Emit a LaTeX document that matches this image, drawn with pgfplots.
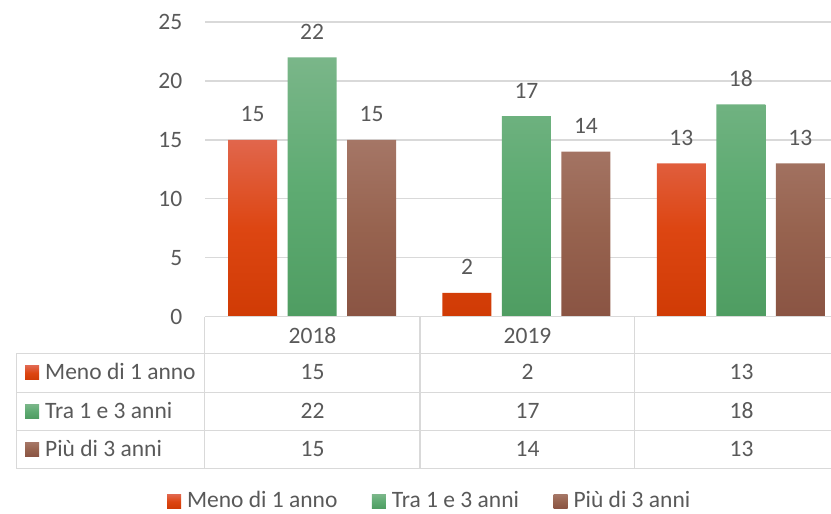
\documentclass[border=0pt]{standalone}
\usepackage{fontspec}
\setmainfont{Carlito}
\usepackage{pgfplots}
\pgfplotsset{compat=1.18}
\definecolor{txt}{HTML}{595959}
\definecolor{grd}{HTML}{D9D9D9}
\definecolor{rT}{HTML}{E1664C}\definecolor{rM}{HTML}{DD4612}\definecolor{rB}{HTML}{D03B05}
\definecolor{gT}{HTML}{7AB689}\definecolor{gM}{HTML}{5EAB72}\definecolor{gB}{HTML}{4F9D62}
\definecolor{bT}{HTML}{A57666}\definecolor{bM}{HTML}{97634F}\definecolor{bB}{HTML}{8A5443}
\newcommand\fs{\fontsize{23.5bp}{28bp}\selectfont}
\pgfplotsset{
  sqbar/.style={ybar, bar width=49bp, draw=none, bar shift=#1, nodes near coords,
    every node near coord/.append style={font=\fs, text=txt, anchor=base, inner sep=0pt, yshift=18bp, xshift=#1},
    legend image code/.code={\path[##1] (0bp,-8bp) rectangle (14bp,6bp);}},
}
\begin{document}
\begin{tikzpicture}
\useasboundingbox (0bp,0bp) rectangle (831bp,-514bp);
\begin{axis}[at={(205bp,-316.5bp)}, anchor=south west, scale only axis,
  width=626bp, height=294.5bp,
  xmin=-0.5, xmax=2.421, ymin=0, ymax=25,
  ytick={0,5,...,25}, xtick=\empty,
  ymajorgrids, grid style={grd, line width=1.4bp},
  axis line style={draw=none}, major tick length=0pt,
  yticklabel style={font=\fs, text=txt, anchor=east, inner sep=0pt, xshift=-22.5bp},
  /pgf/number format/assume math mode=true,
  clip=false,
  legend columns=3,
  legend style={at={(rel axis cs:-0.0607,-0.655)}, anchor=south west, draw=none, fill=none,
    inner sep=0pt, outer sep=0pt, font=\fs, text=txt, nodes={inner sep=0pt},
    /tikz/every odd column/.append style={column sep=6bp},
    /tikz/every even column/.append style={column sep=34.5bp}},
]
\addplot[sqbar=-59.5bp, top color=rT, bottom color=rB, middle color=rM]
  coordinates {(0,15) (1,2) (2,13)};
\addlegendentry{Meno di 1 anno}
\addplot[sqbar=0bp, top color=gT, bottom color=gB, middle color=gM]
  coordinates {(0,22) (1,17) (2,18)};
\addlegendentry{Tra 1 e 3 anni}
\addplot[sqbar=59.5bp, top color=bT, bottom color=bB, middle color=bM]
  coordinates {(0,15) (1,14) (2,13)};
\addlegendentry{Più di 3 anni}
\end{axis}
\begin{scope}[x=1bp,y=1bp]
  \draw[grd, line width=1.4bp] (205,-316.7) -- (831,-316.7);
  \foreach \yy in {353.3,392.3,430.7,468.7} \draw[grd, line width=1.4bp] (16.7,-\yy) -- (831,-\yy);
  \draw[grd, line width=1.4bp] (16.7,-353.3) -- (16.7,-468.7);
  \foreach \xx in {204.7,420,634.7} \draw[grd, line width=1.4bp] (\xx,-316.7) -- (\xx,-468.7);
  \begin{scope}[every node/.style={font=\fs, text=txt, inner sep=0pt}]
    \node[anchor=base] at (312.5,-343.2) {2018};
    \node[anchor=base] at (527.5,-343.2) {2019};
    \shade[top color=rT, bottom color=rB, middle color=rM] (25,-379.9) rectangle (39,-365.9);
    \shade[top color=gT, bottom color=gB, middle color=gM] (25,-418.2) rectangle (39,-404.2);
    \shade[top color=bT, bottom color=bB, middle color=bM] (25,-456.5) rectangle (39,-442.5);
    \node[anchor=base west] at (45,-379.9) {Meno di 1 anno};
    \node[anchor=base west] at (45,-418.2) {Tra 1 e 3 anni};
    \node[anchor=base west] at (45,-456.5) {Più di 3 anni};
    \node[anchor=base] at (312.5,-379.9) {15};
    \node[anchor=base] at (527.5,-379.9) {2};
    \node[anchor=base] at (741.5,-379.9) {13};
    \node[anchor=base] at (312.5,-418.2) {22};
    \node[anchor=base] at (527.5,-418.2) {17};
    \node[anchor=base] at (741.5,-418.2) {18};
    \node[anchor=base] at (312.5,-456.5) {15};
    \node[anchor=base] at (527.5,-456.5) {14};
    \node[anchor=base] at (741.5,-456.5) {13};
  \end{scope}
\end{scope}
\end{tikzpicture}
\end{document}
